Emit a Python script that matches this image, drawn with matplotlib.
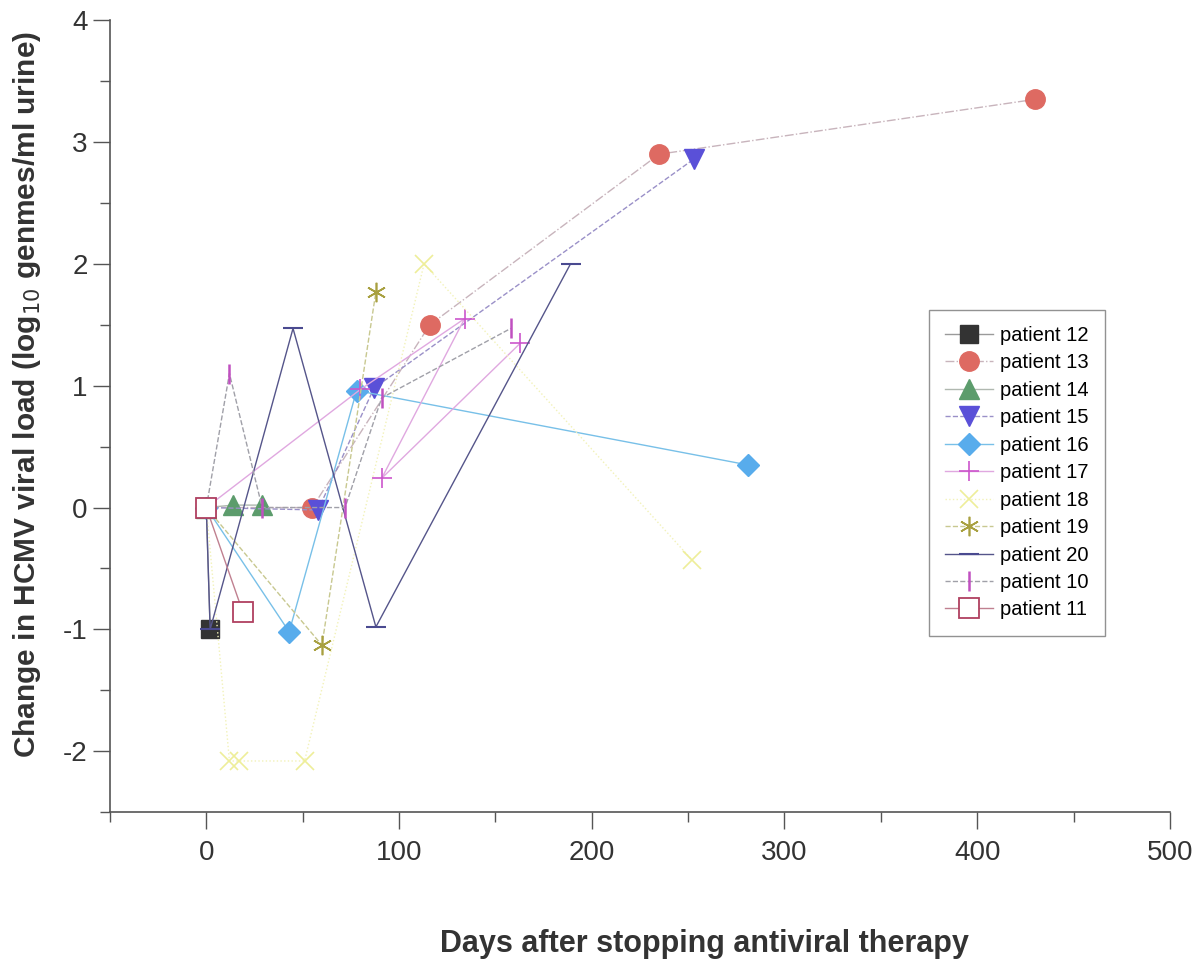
import matplotlib
matplotlib.use("Agg")
import matplotlib.pyplot as plt
from matplotlib.ticker import MultipleLocator

plt.rcParams['font.family'] = ['Liberation Sans', 'DejaVu Sans']
plt.rcParams['axes.unicode_minus'] = False

# days after stopping therapy / change in log10 viral load
p12_days = [0, 2]
p12_load = [0, -1.0]
p13_days = [0, 55, 116, 235, 430]
p13_load = [0, 0.0, 1.5, 2.9, 3.35]
p14_days = [0, 14, 29]
p14_load = [0, 0.02, 0.02]
p15_days = [0, 58, 87, 253]
p15_load = [0, -0.02, 0.98, 2.86]
p16_days = [0, 43, 78, 281]
p16_load = [0, -1.02, 0.96, 0.35]
p17_days = [0, 80, 134, 91, 163]
p17_load = [0, 0.97, 1.55, 0.24, 1.35]
p18_days = [0, 12, 17, 51, 113, 252]
p18_load = [0, -2.08, -2.08, -2.08, 2.0, -0.43]
p19_days = [0, 60, 88]
p19_load = [0, -1.13, 1.77]
p20_days = [0, 2, 45, 88, 189]
p20_load = [0, -1.0, 1.47, -0.98, 2.0]
p10_days = [0, 12, 29, 72, 91, 158]
p10_load = [0, 1.1, 0.0, 0.0, 0.9, 1.47]
p11_days = [0, 19]
p11_load = [0, -0.86]

series = [
    ("patient 12", p12_days, p12_load, dict(marker='s', color='#9a9a9a', mfc='#333333', mec='#333333', ms=13, ls='-')),
    ("patient 13", p13_days, p13_load, dict(marker='o', color='#c8b4bc', mfc='#de6a62', mec='#de6a62', ms=14, ls='-.')),
    ("patient 14", p14_days, p14_load, dict(marker='^', color='#b0b8b0', mfc='#5c9c6c', mec='#5c9c6c', ms=14, ls='-')),
    ("patient 15", p15_days, p15_load, dict(marker='v', color='#9a90c8', mfc='#5a50d8', mec='#5a50d8', ms=14, ls='--')),
    ("patient 16", p16_days, p16_load, dict(marker='D', color='#78c0e8', mfc='#58acec', mec='#58acec', ms=11, ls='-')),
    ("patient 17", p17_days, p17_load, dict(marker='+', color='#e0a8e0', mfc='#cc55cc', mec='#cc55cc', ms=14, mew=1.2, ls='-')),
    ("patient 18", p18_days, p18_load, dict(marker='x', color='#f2f2b8', mfc='#eeee99', mec='#eeee99', ms=13, mew=1.2, ls=':')),
    ("patient 19", p19_days, p19_load, dict(marker=(6, 2, 0), color='#c8c890', mfc='#a8a040', mec='#a8a040', ms=14, mew=1.2, ls='--')),
    ("patient 20", p20_days, p20_load, dict(marker='_', color='#55558a', mfc='#4a4a90', mec='#4a4a90', ms=14, mew=1.5, ls='-')),
    ("patient 10", p10_days, p10_load, dict(marker='|', color='#a0a0a8', mfc='#c050c0', mec='#c050c0', ms=14, mew=1.8, ls='--')),
    ("patient 11", p11_days, p11_load, dict(marker='s', color='#c08090', mfc='white', mec='#b04060', ms=15, mew=1.3, ls='-')),
]

fig = plt.figure(figsize=(11.99, 9.6), dpi=100)
ax = fig.add_axes([0.0917, 0.154, 0.884, 0.825])

for name, days, load, style in series:
    ax.plot(days, load, lw=1.0, label=name, **style)

ax.set_xlim(-50, 500)
ax.set_ylim(-2.5, 4)
ax.xaxis.set_major_locator(MultipleLocator(100))
ax.xaxis.set_minor_locator(MultipleLocator(50))
ax.yaxis.set_major_locator(MultipleLocator(1))
ax.yaxis.set_minor_locator(MultipleLocator(0.5))

for s in ['top', 'right']:
    ax.spines[s].set_visible(False)
for s in ['left', 'bottom']:
    ax.spines[s].set_color('#555555')
    ax.spines[s].set_linewidth(1.2)

ax.tick_params(which='major', direction='out', length=12, width=1, colors='#555555', labelsize=20, labelcolor='#333333')
ax.tick_params(which='minor', direction='out', length=7, width=1, colors='#555555')
ax.tick_params(axis='x', pad=8)
ax.tick_params(axis='y', pad=4)

ax.set_xlabel("Days after stopping antiviral therapy", fontsize=22, fontweight='bold', color='#333333')
ax.xaxis.set_label_coords(0.561, -0.147)
ax.set_ylabel("Change in HCMV viral load (log$_{10}$ genmes/ml urine)", fontsize=21.5, fontweight='bold', color='#333333')
ax.yaxis.set_label_coords(-0.063, 0.527)

leg = ax.legend(loc='upper left', bbox_to_anchor=(0.763, 0.647), fontsize=14.5, frameon=True, fancybox=False,
                edgecolor='#777777', handlelength=2.4, handletextpad=0.35, labelspacing=0.42, borderpad=0.8)
leg.get_frame().set_linewidth(1.0)

fig.savefig("out.png", dpi=100)
